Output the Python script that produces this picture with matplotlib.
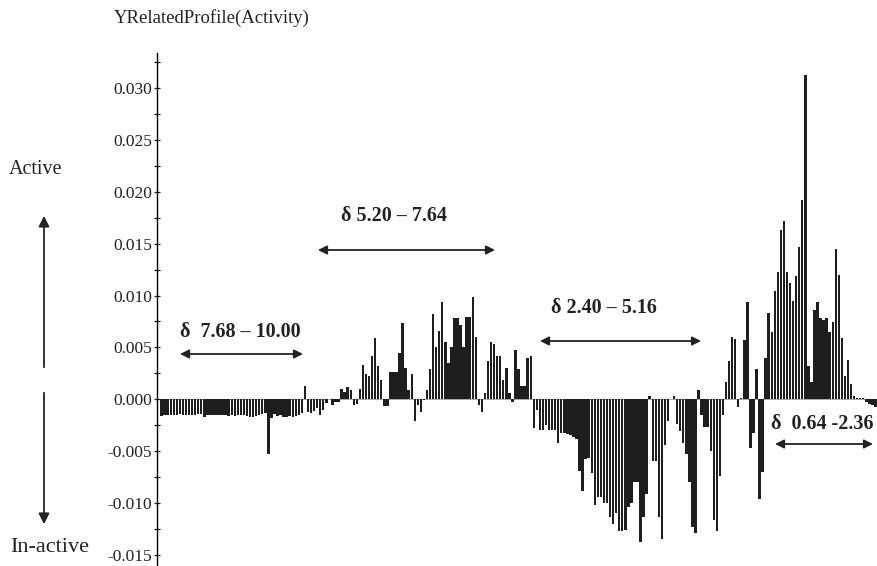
import matplotlib
matplotlib.use("Agg")
import matplotlib.pyplot as plt
from matplotlib.ticker import MultipleLocator, FormatStrFormatter

# Bucket values (delta 10.00 -> 0.64 ppm, 0.04 ppm buckets)
region_a = [-0.0016, -0.0015, -0.0015, -0.0015, -0.0015, -0.0015, -0.0014, -0.0015,
            -0.0015, -0.0015, -0.0015, -0.0015, -0.0014, -0.0014, -0.0017, -0.0015,
            -0.0015, -0.0015, -0.0015, -0.0015, -0.0015, -0.0015, -0.0016, -0.0015,
            -0.0016, -0.0015, -0.0015, -0.0015, -0.0016, -0.0017, -0.0017, -0.0016,
            -0.0015, -0.0014, -0.0013, -0.0053, -0.0018, -0.0014, -0.0016, -0.0015,
            -0.0017, -0.0017, -0.0016, -0.0017, -0.0016, -0.0015, -0.0013, 0.0013,
            -0.0012, -0.0013, -0.0011, -0.0009, -0.0015, -0.0010, -0.0004, 0.0000,
            -0.0006, -0.0003, -0.0003]
region_b = [0.0010, 0.0007, 0.0012, 0.0009, -0.0006, -0.0005, 0.0010, 0.0033,
            0.0024, 0.0022, 0.0042, 0.0059, 0.0032, 0.0018, -0.0007, -0.0007,
            0.0026, 0.0026, 0.0026, 0.0045, 0.0073, 0.0030, 0.0009, 0.0024,
            -0.0021, -0.0006, -0.0012, -0.0001, 0.0009, 0.0029, 0.0082, 0.0050,
            0.0066, 0.0094, 0.0055, 0.0035, 0.0050, 0.0078, 0.0078, 0.0072,
            0.0050, 0.0079, 0.0079, 0.0099, 0.0060, -0.0006, -0.0012, 0.0006,
            0.0037, 0.0055, 0.0053, 0.0042, 0.0042, 0.0018, 0.0030, 0.0006,
            -0.0003, 0.0047, 0.0029, 0.0013, 0.0013, 0.0040, 0.0042]
region_c = [-0.0028, -0.0010, -0.0030, -0.0030, -0.0025, -0.0030, -0.0030, -0.0030,
            -0.0042, -0.0033, -0.0033, -0.0034, -0.0035, -0.0037, -0.0038, -0.0069,
            -0.0089, -0.0058, -0.0057, -0.0071, -0.0102, -0.0094, -0.0094, -0.0100,
            -0.0100, -0.0114, -0.0120, -0.0110, -0.0127, -0.0127, -0.0126, -0.0104,
            -0.0100, -0.0080, -0.0080, -0.0138, -0.0114, -0.0092, 0.0003, -0.0060,
            -0.0060, -0.0114, -0.0135, -0.0044, -0.0021, 0.0000, 0.0003, -0.0024,
            -0.0031, -0.0042, -0.0053, -0.0080, -0.0123, -0.0129, 0.0009, -0.0015,
            -0.0027, -0.0027, -0.0050, -0.0117, -0.0127, -0.0074, -0.0015]
region_d = [0.0017, 0.0037, 0.0060, 0.0058, -0.0008, 0.0001, 0.0057, 0.0094,
            -0.0047, -0.0033, 0.0029, -0.0096, -0.0070, 0.0040, 0.0083, 0.0065,
            0.0104, 0.0123, 0.0163, 0.0172, 0.0123, 0.0112, 0.0095, 0.0119,
            0.0147, 0.0192, 0.0313, 0.0032, 0.0017, 0.0086, 0.0094, 0.0078,
            0.0076, 0.0078, 0.0065, 0.0074, 0.0145, 0.0120, 0.0059, 0.0022,
            0.0038, 0.0015, 0.0003, 0.0001, 0.0001, 0.0001, -0.0003, -0.0005,
            -0.0006, -0.0008]
values = region_a + region_b + region_c + region_d

yticks = [-0.015, -0.010, -0.005, 0.000, 0.005, 0.010, 0.015, 0.020, 0.025, 0.030]
ylabel_text = "YRelatedProfile(Activity)"
range_labels = ["δ  7.68 – 10.00", "δ 5.20 – 7.64", "δ 2.40 – 5.16", "δ  0.64 -2.36"]

plt.rcParams['font.family'] = ['Liberation Serif', 'DejaVu Serif']

fig = plt.figure(figsize=(8.77, 5.66), dpi=100)
ax = fig.add_axes([157 / 877, 0.0, 720 / 877, 1 - 53 / 566])

x = list(range(len(values)))
ax.bar(x, values, width=0.8, color='#1e1e1e', linewidth=0)
ax.axhline(0, color='#9a9a9a', lw=0.6, zorder=0)

ax.set_xlim(-1.5, len(values) - 0.5)
ax.set_ylim(-0.0161, 0.0334)
for s in ['top', 'right', 'bottom']:
    ax.spines[s].set_visible(False)
ax.spines['left'].set_linewidth(1.0)
ax.set_xticks([])
ax.set_yticks(yticks)
ax.yaxis.set_major_formatter(FormatStrFormatter('%.3f'))
ax.yaxis.set_minor_locator(MultipleLocator(0.0025))
ax.tick_params(axis='y', which='major', direction='inout', length=5, width=0.9,
               pad=1, labelsize=12.5, colors='#222222')
ax.tick_params(axis='y', which='minor', direction='inout', length=4, width=0.9)


def fx(px):
    return px / 877


def fy(py):
    return 1 - py / 566


fig.text(fx(212), fy(18), ylabel_text, ha='center', va='center', fontsize=13.5,
         color='#222222')
fig.text(fx(36), fy(170), "Active", ha='center', va='center', fontsize=14.5,
         color='#222222')
fig.text(fx(10), fy(547), "In-active", ha='left', va='center', fontsize=16,
         color='#222222')

arrow_kw = dict(arrowstyle='-|>', color='#222222', lw=1.3, mutation_scale=16)
fig.patches.append(matplotlib.patches.FancyArrowPatch(
    (fx(44), fy(370)), (fx(44), fy(213)), transform=fig.transFigure, **arrow_kw))
fig.patches.append(matplotlib.patches.FancyArrowPatch(
    (fx(44), fy(390)), (fx(44), fy(527)), transform=fig.transFigure, **arrow_kw))

label_pos = [(240, 332), (394, 216), (604, 308), (822, 424)]
arrow_pos = [(180, 303, 354), (318, 495, 250), (540, 701, 341), (775, 873, 444)]
dbl_kw = dict(arrowstyle='<|-|>', color='#222222', lw=1.3, mutation_scale=13,
              shrinkA=0, shrinkB=0)
for lab, (lx, ly), (ax0, ax1, ay) in zip(range_labels, label_pos, arrow_pos):
    fig.text(fx(lx), fy(ly), lab, ha='center', va='center', fontsize=14.5,
             fontweight='bold', color='#222222')
    fig.patches.append(matplotlib.patches.FancyArrowPatch(
        (fx(ax0), fy(ay)), (fx(ax1), fy(ay)), transform=fig.transFigure, **dbl_kw))

fig.savefig("out.png", dpi=100, facecolor='white')
